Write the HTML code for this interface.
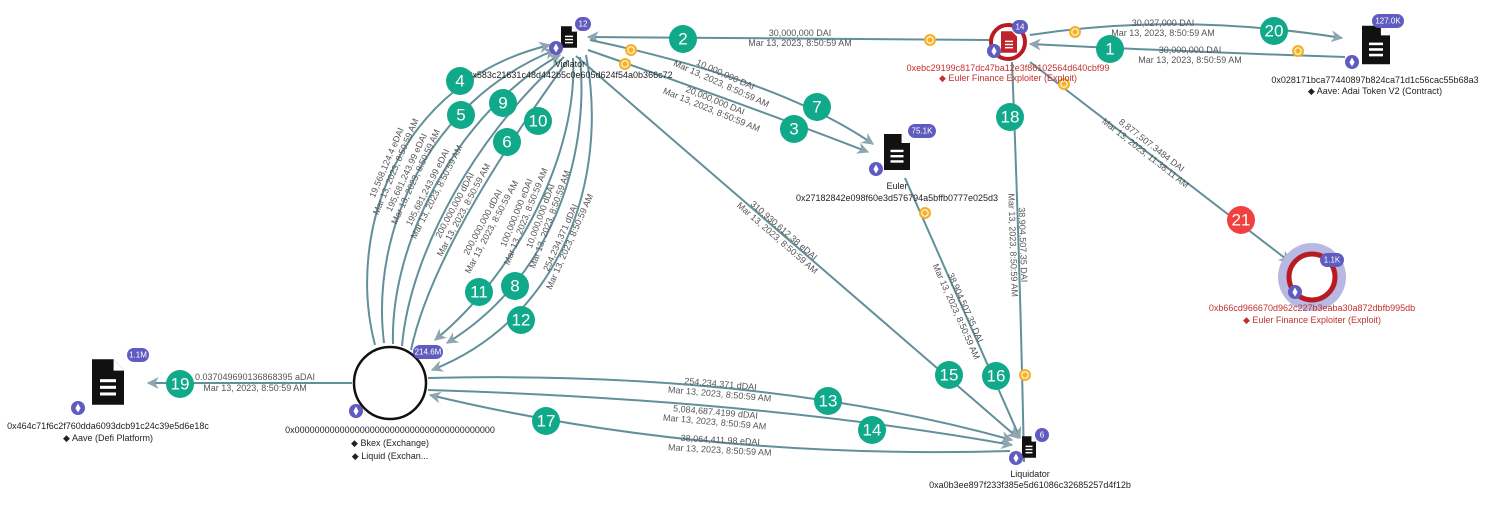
<!DOCTYPE html>
<html><head><meta charset="utf-8"><style>
html,body{margin:0;padding:0;background:#fff;width:1500px;height:521px;overflow:hidden}
svg{display:block;font-family:"Liberation Sans","DejaVu Sans",sans-serif}
.e{fill:none;stroke:#62909a;stroke-width:2}
.l{font-size:9px;fill:#555;text-anchor:middle}
.n{font-size:9px;fill:#222;text-anchor:middle}
.r{font-size:9px;fill:#c0302e;text-anchor:middle}
.g{fill:#10a98a}
.gt{font-size:17px;fill:#fff;text-anchor:middle;dominant-baseline:central}
.b{fill:#5f5bbf}
.bt{font-size:8px;fill:#fff;text-anchor:middle;dominant-baseline:central}
</style></head><body>
<svg width="1500" height="521" viewBox="0 0 1500 521">
<defs>
<marker id="a" viewBox="0 0 10 10" refX="9" refY="5" markerWidth="7" markerHeight="7" orient="auto" markerUnits="userSpaceOnUse"><path d="M0,0 L10,5 L0,10 L3,5z" fill="#8fa6b0"/></marker>
<marker id="A" viewBox="0 0 10 10" refX="9" refY="5" markerWidth="12" markerHeight="12" orient="auto" markerUnits="userSpaceOnUse"><path d="M0,0 L10,5 L0,10 L3,5z" fill="#8fa6b0"/></marker>
<g id="doc"><path d="M-1,-1.2 L0.35,-1.2 L1,-0.6 L1,1.2 L-1,1.2z" fill="#111"/><path d="M0.35,-1.2 L0.35,-0.6 L1,-0.6" fill="#fff"/><rect x="-0.5" y="-0.15" width="1" height="0.16" fill="#fff"/><rect x="-0.5" y="0.2" width="1" height="0.16" fill="#fff"/><rect x="-0.5" y="0.55" width="1" height="0.16" fill="#fff"/></g>
<g id="eth"><circle r="7" fill="#5f5bbf"/><path d="M0,-4.5 L2.6,0.3 L0,4.5 L-2.6,0.3z" fill="#fff"/></g>
<g id="coin"><circle r="6" fill="#f5b12a"/><circle r="3.2" fill="none" stroke="#fff" stroke-width="1"/></g>
</defs>

<!-- edges -->
<path class="e" d="M990,40 L588,37" marker-end="url(#A)"/>
<path class="e" d="M1345,57 Q1190,52 1030,44" marker-end="url(#A)"/>
<path class="e" d="M1030,35 Q1180,12 1342,38" marker-end="url(#A)"/>
<path class="e" d="M590,40 Q780,80 873,144" marker-end="url(#A)"/>
<path class="e" d="M588,50 Q760,110 868,152" marker-end="url(#A)"/>
<path class="e" d="M1030,62 L1290,262" marker-end="url(#A)"/>
<path class="e" d="M1012,62 Q1020,260 1024,462"/>
<path class="e" d="M905,178 L1020,438" marker-end="url(#A)"/>
<path class="e" d="M576,56 L1018,438" marker-end="url(#A)"/>
<path class="e" d="M428,378 Q760,370 1012,440" marker-end="url(#A)"/>
<path class="e" d="M428,390 Q760,400 1012,445" marker-end="url(#A)"/>
<path class="e" d="M1010,451 Q700,460 430,395" marker-end="url(#A)"/>
<path class="e" d="M352,383 L148,383" marker-end="url(#A)"/>
<!-- fan -->
<path class="e" d="M375,345 C345,230 400,80 550,45" marker-end="url(#A)"/>
<path class="e" d="M384,343 C370,230 430,100 555,50" marker-end="url(#A)"/>
<path class="e" d="M393,344 C390,240 460,110 560,55" marker-end="url(#A)"/>
<path class="e" d="M402,346 C410,250 480,130 564,57"/>
<path class="e" d="M411,350 C430,260 510,140 568,60"/>
<path class="e" d="M573,58 C578,150 520,270 435,340" marker-end="url(#A)"/>
<path class="e" d="M580,57 C590,160 550,280 447,343" marker-end="url(#A)"/>
<path class="e" d="M586,55 C610,180 560,320 432,370" marker-end="url(#A)"/>

<!-- edge labels -->
<text class="l" x="800" y="36">30,000,000 DAI</text><text class="l" x="800" y="46">Mar 13, 2023, 8:50:59 AM</text>
<text class="l" x="1190" y="53">30,000,000 DAI</text><text class="l" x="1190" y="63">Mar 13, 2023, 8:50:59 AM</text>
<text class="l" x="1163" y="26">30,027,000 DAI</text><text class="l" x="1163" y="36">Mar 13, 2023, 8:50:59 AM</text>
<g transform="translate(723,80) rotate(24)"><text class="l" y="-3">10,000,000 DAI</text><text class="l" y="7">Mar 13, 2023, 8:50:59 AM</text></g>
<g transform="translate(713,106) rotate(22)"><text class="l" y="-3">20,000,000 DAI</text><text class="l" y="7">Mar 13, 2023, 8:50:59 AM</text></g>
<g transform="translate(1148,150) rotate(38)"><text class="l" y="-3">8,877,507.3484 DAI</text><text class="l" y="7">Mar 13, 2023, 11:38:11 AM</text></g>
<g transform="translate(1017,245) rotate(88)"><text class="l" y="-3">38,904,507.35 DAI</text><text class="l" y="7">Mar 13, 2023, 8:50:59 AM</text></g>
<g transform="translate(960,310) rotate(66)"><text class="l" y="-3">38,904,507.35 DAI</text><text class="l" y="7">Mar 13, 2023, 8:50:59 AM</text></g>
<g transform="translate(780,235) rotate(41)"><text class="l" y="-3">310,930,612.38 eDAI</text><text class="l" y="7">Mar 13, 2023, 8:50:59 AM</text></g>
<g transform="translate(720,390) rotate(5)"><text class="l" y="-3">254,234,371 dDAI</text><text class="l" y="7">Mar 13, 2023, 8:50:59 AM</text></g>
<g transform="translate(715,418) rotate(5)"><text class="l" y="-3">5,084,687.4199 dDAI</text><text class="l" y="7">Mar 13, 2023, 8:50:59 AM</text></g>
<g transform="translate(720,446) rotate(3)"><text class="l" y="-3">38,064,411.98 eDAI</text><text class="l" y="7">Mar 13, 2023, 8:50:59 AM</text></g>
<text class="l" x="255" y="380">0.037049690136868395 aDAI</text><text class="l" x="255" y="391">Mar 13, 2023, 8:50:59 AM</text>
<g transform="translate(392,165) rotate(-67)"><text class="l" y="-3">19,568,124.4 eDAI</text><text class="l" y="7">Mar 13, 2023, 8:50:59 AM</text></g>
<g transform="translate(412,175) rotate(-65)"><text class="l" y="-3">195,681,243.99 eDAI</text><text class="l" y="7">Mar 13, 2023, 8:50:59 AM</text></g>
<g transform="translate(433,190) rotate(-63)"><text class="l" y="-3">195,681,243.99 eDAI</text><text class="l" y="7">Mar 13, 2023, 8:50:59 AM</text></g>
<g transform="translate(460,208) rotate(-62)"><text class="l" y="-3">200,000,000 dDAI</text><text class="l" y="7">Mar 13, 2023, 8:50:59 AM</text></g>
<g transform="translate(488,225) rotate(-62)"><text class="l" y="-3">200,000,000 dDAI</text><text class="l" y="7">Mar 13, 2023, 8:50:59 AM</text></g>
<g transform="translate(522,215) rotate(-68)"><text class="l" y="-3">100,000,000 eDAI</text><text class="l" y="7">Mar 13, 2023, 8:50:59 AM</text></g>
<g transform="translate(546,218) rotate(-70)"><text class="l" y="-3">10,000,000 dDAI</text><text class="l" y="7">Mar 13, 2023, 8:50:59 AM</text></g>
<g transform="translate(566,240) rotate(-66)"><text class="l" y="-3">254,234,371 dDAI</text><text class="l" y="7">Mar 13, 2023, 8:50:59 AM</text></g>

<!-- coins -->
<use href="#coin" x="930" y="40"/><use href="#coin" x="631" y="50"/><use href="#coin" x="625" y="64"/>
<use href="#coin" x="1075" y="32"/><use href="#coin" x="1298" y="51"/><use href="#coin" x="1064" y="84"/>
<use href="#coin" x="925" y="213"/><use href="#coin" x="1025" y="375"/>

<!-- nodes -->
<!-- Violator -->
<g transform="translate(569,37) scale(8,9)"><use href="#doc"/></g>
<rect x="575" y="17" width="16" height="14" rx="7" class="b"/><text class="bt" x="583" y="24">12</text>
<use href="#eth" x="556" y="48"/>
<text class="n" x="570" y="67">Violator</text><text class="n" x="570" y="78">0x583c21631c48d442b5c0e605d624f54a0b366c72</text>
<!-- Exploiter -->
<circle cx="1008" cy="42" r="17" fill="#fff" stroke="#b81c22" stroke-width="4"/>
<g transform="translate(1009,42) scale(8,9)"><path d="M-1,-1.2 L0.35,-1.2 L1,-0.6 L1,1.2 L-1,1.2z" fill="#c0242a"/><rect x="-0.5" y="-0.15" width="1" height="0.16" fill="#fff"/><rect x="-0.5" y="0.2" width="1" height="0.16" fill="#fff"/><rect x="-0.5" y="0.55" width="1" height="0.16" fill="#fff"/></g>
<rect x="1012" y="20" width="16" height="14" rx="7" class="b"/><text class="bt" x="1020" y="27">14</text>
<use href="#eth" x="994" y="51"/>
<text class="r" x="1008" y="71">0xebc29199c817dc47ba12e3f86102564d640cbf99</text><text class="r" x="1008" y="81">◆ Euler Finance Exploiter (Exploit)</text>
<!-- Aave adai -->
<g transform="translate(1376,45) scale(14,16)"><use href="#doc"/></g>
<rect x="1372" y="14" width="32" height="14" rx="7" class="b"/><text class="bt" x="1388" y="21">127.0K</text>
<use href="#eth" x="1352" y="62"/>
<text class="n" x="1375" y="83">0x028171bca77440897b824ca71d1c56cac55b68a3</text><text class="n" x="1375" y="94">◆ Aave: Adai Token V2 (Contract)</text>
<!-- Euler -->
<g transform="translate(897,152) scale(13,15)"><use href="#doc"/></g>
<rect x="908" y="124" width="28" height="14" rx="7" class="b"/><text class="bt" x="922" y="131">75.1K</text>
<use href="#eth" x="876" y="169"/>
<text class="n" x="897" y="189">Euler</text><text class="n" x="897" y="201">0x27182842e098f60e3d576794a5bffb0777e025d3</text>
<!-- Exploiter 2 -->
<circle cx="1312" cy="277" r="34" fill="#b8b9e2"/>
<circle cx="1312" cy="277" r="23" fill="#fff" stroke="#b81c22" stroke-width="5"/>
<rect x="1320" y="253" width="24" height="14" rx="7" class="b"/><text class="bt" x="1332" y="260">1.1K</text>
<use href="#eth" x="1295" y="292"/>
<text class="r" x="1312" y="311">0xb66cd966670d962c227b3eaba30a872dbfb995db</text><text class="r" x="1312" y="323">◆ Euler Finance Exploiter (Exploit)</text>
<!-- Null -->
<circle cx="390" cy="383" r="36" fill="#fff" stroke="#111" stroke-width="2.5"/>
<rect x="413" y="345" width="30" height="14" rx="7" class="b"/><text class="bt" x="428" y="352">214.6M</text>
<use href="#eth" x="356" y="411"/>
<text class="n" x="390" y="433">0x0000000000000000000000000000000000000000</text>
<text class="n" x="390" y="446">◆ Bkex (Exchange)</text><text class="n" x="390" y="459">◆ Liquid (Exchan...</text>
<!-- Aave defi -->
<g transform="translate(108,382) scale(16,19)"><use href="#doc"/></g>
<rect x="127" y="348" width="22" height="14" rx="7" class="b"/><text class="bt" x="138" y="355">1.1M</text>
<use href="#eth" x="78" y="408"/>
<text class="n" x="108" y="429">0x464c71f6c2f760dda6093dcb91c24c39e5d6e18c</text><text class="n" x="108" y="441">◆ Aave (Defi Platform)</text>
<!-- Liquidator -->
<g transform="translate(1029,447) scale(7,9)"><use href="#doc"/></g>
<circle cx="1042" cy="435" r="7" class="b"/><text class="bt" x="1042" y="435">6</text>
<use href="#eth" x="1016" y="458"/>
<text class="n" x="1030" y="477">Liquidator</text><text class="n" x="1030" y="488">0xa0b3ee897f233f385e5d61086c32685257d4f12b</text>

<!-- step numbers -->
<g>
<circle class="g" cx="1110" cy="49" r="14"/><text class="gt" x="1110" y="49">1</text>
<circle class="g" cx="683" cy="39" r="14"/><text class="gt" x="683" y="39">2</text>
<circle class="g" cx="794" cy="129" r="14"/><text class="gt" x="794" y="129">3</text>
<circle class="g" cx="460" cy="81" r="14"/><text class="gt" x="460" y="81">4</text>
<circle class="g" cx="461" cy="115" r="14"/><text class="gt" x="461" y="115">5</text>
<circle class="g" cx="507" cy="142" r="14"/><text class="gt" x="507" y="142">6</text>
<circle class="g" cx="817" cy="107" r="14"/><text class="gt" x="817" y="107">7</text>
<circle class="g" cx="515" cy="286" r="14"/><text class="gt" x="515" y="286">8</text>
<circle class="g" cx="503" cy="103" r="14"/><text class="gt" x="503" y="103">9</text>
<circle class="g" cx="538" cy="121" r="14"/><text class="gt" x="538" y="121">10</text>
<circle class="g" cx="479" cy="292" r="14"/><text class="gt" x="479" y="292">11</text>
<circle class="g" cx="521" cy="320" r="14"/><text class="gt" x="521" y="320">12</text>
<circle class="g" cx="828" cy="401" r="14"/><text class="gt" x="828" y="401">13</text>
<circle class="g" cx="872" cy="430" r="14"/><text class="gt" x="872" y="430">14</text>
<circle class="g" cx="949" cy="375" r="14"/><text class="gt" x="949" y="375">15</text>
<circle class="g" cx="996" cy="376" r="14"/><text class="gt" x="996" y="376">16</text>
<circle class="g" cx="546" cy="421" r="14"/><text class="gt" x="546" y="421">17</text>
<circle class="g" cx="1010" cy="117" r="14"/><text class="gt" x="1010" y="117">18</text>
<circle class="g" cx="180" cy="384" r="14"/><text class="gt" x="180" y="384">19</text>
<circle class="g" cx="1274" cy="31" r="14"/><text class="gt" x="1274" y="31">20</text>
<circle cx="1241" cy="220" r="14" fill="#f0413f"/><text class="gt" x="1241" y="220">21</text>
</g>
</svg>
</body></html>
